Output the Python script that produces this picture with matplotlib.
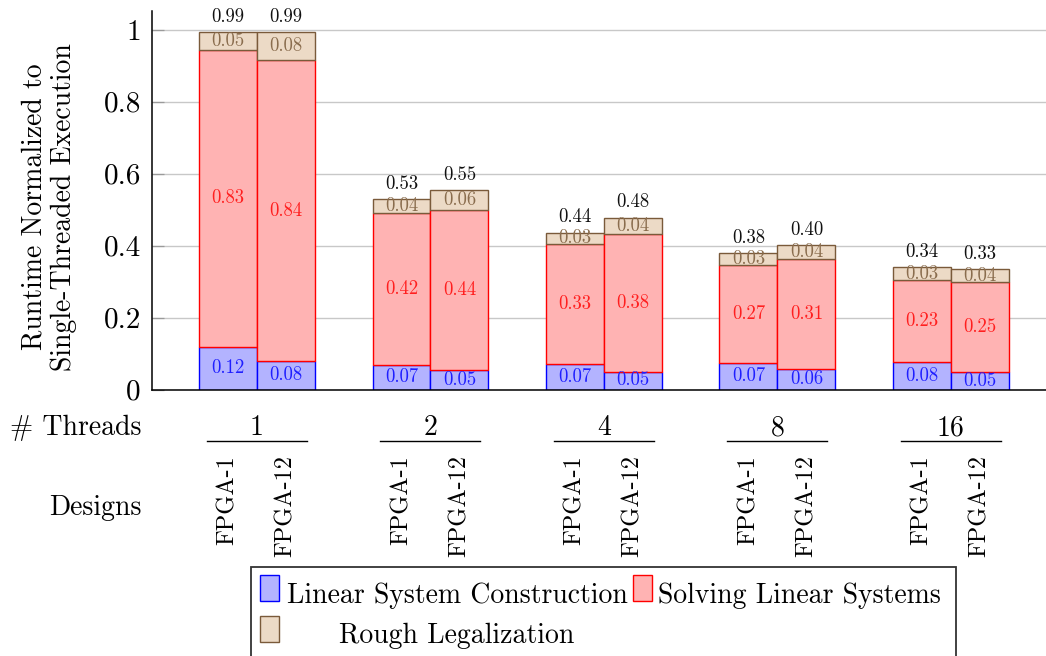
import matplotlib
matplotlib.use("Agg")
import matplotlib.pyplot as plt
from matplotlib import transforms
from matplotlib.patches import Rectangle

plt.rcParams['font.family'] = ['cmr10', 'DejaVu Serif']
plt.rcParams['axes.formatter.use_mathtext'] = True
plt.rcParams['axes.unicode_minus'] = False

# Thread counts and the two designs run at each count
threads = ['1', '2', '4', '8', '16']
designs = ['FPGA-1', 'FPGA-12']

# Runtime components per thread count, as [FPGA-1, FPGA-12]
construction = [[0.118, 0.079], [0.069, 0.054], [0.072, 0.050], [0.073, 0.056], [0.076, 0.048]]
solving = [[0.826, 0.836], [0.421, 0.444], [0.331, 0.383], [0.274, 0.307], [0.229, 0.250]]
legalization = [[0.048, 0.078], [0.039, 0.056], [0.033, 0.044], [0.032, 0.038], [0.034, 0.036]]

series_names = ['Linear System Construction', 'Solving Linear Systems', 'Rough Legalization']

yticks = [0, 0.2, 0.4, 0.6, 0.8, 1.0]
ytick_labels = ['0', '0.2', '0.4', '0.6', '0.8', '1']

# fill, edge, label colour per component
styles = [
    ('#b3b3ff', '#0000ff', '#1f1fff'),
    ('#ffb3b3', '#ff0000', '#ff1f1f'),
    ('#ecdac6', '#7a5a3a', '#8a6d4e'),
]

W, H = 1046, 656
fig = plt.figure(figsize=(W / 100, H / 100), dpi=100)
ax = fig.add_axes([152 / W, 1 - 389.5 / H, (W - 152) / W, (389.5 - 11) / H])

bar_w = 0.334
components = [construction, solving, legalization]

for g in range(len(threads)):
    for d in range(len(designs)):
        x = g + (d - 0.5) * bar_w
        bottom = 0.0
        for comp, (fc, ec, tc) in zip(components, styles):
            v = comp[g][d]
            ax.bar(x, v, bar_w, bottom=bottom, color=fc, edgecolor=ec,
                   linewidth=1.0, zorder=2)
            ax.text(x, bottom + v / 2, f'{v:.2f}', ha='center', va='center',
                    color=tc, fontsize=13.5, zorder=3)
            bottom += v
        ax.annotate(f'{bottom:.2f}', (x, bottom), xytext=(0, 11),
                    textcoords='offset points', ha='center', va='center',
                    fontsize=13.5, color='#111111')

ax.set_xlim(-0.605, 4.548)
ax.set_ylim(0, (389.5 - 11) / 360)
ax.set_xticks([])
ax.set_yticks(yticks)
ax.set_yticklabels(ytick_labels, fontsize=21)
ax.tick_params(axis='y', direction='in', length=8.6, width=0.9,
               color='#9a9a9a', pad=8)
ax.yaxis.grid(True, color='#c8c8c8', linewidth=1.0)
ax.set_axisbelow(True)
for side in ('top', 'right'):
    ax.spines[side].set_visible(False)
for side in ('left', 'bottom'):
    ax.spines[side].set_linewidth(1.1)
    ax.spines[side].set_color('black')

fig.text(49 / W, 1 - 207 / H, 'Runtime Normalized to\nSingle-Threaded Execution',
         rotation=90, ha='center', va='center', multialignment='center',
         fontsize=20, linespacing=1.15)

# Two-level category axis below the plot
trans = transforms.blended_transform_factory(ax.transData, fig.transFigure)
fig.text(142 / W, 1 - 435 / H, '# Threads', ha='right', va='baseline', fontsize=20)
fig.text(142 / W, 1 - 515 / H, 'Designs', ha='right', va='baseline', fontsize=20)
for g, t in enumerate(threads):
    ax.text(g, 1 - 435 / H, t, transform=trans, ha='center', va='baseline', fontsize=20)
    ax.plot([g - 0.288, g + 0.288], [1 - 441 / H] * 2, transform=trans,
            color='black', lw=1.0, clip_on=False)
    for d, name in enumerate(designs):
        ax.text(g + (d - 0.5) * bar_w, 1 - 455 / H, name, transform=trans,
                rotation=90, ha='center', va='top', fontsize=17.5)

# Legend
fig.add_artist(Rectangle((251 / W, 1 - 700 / H), (956 - 251) / W, (700 - 567) / H,
                         transform=fig.transFigure, fill=False,
                         edgecolor='#333333', lw=1.3))
legend_slots = [(260, 575, 287, 603), (633, 575, 658, 603), (260, 616, 339, 643)]
for (px, py, tx, ty), name, (fc, ec, _) in zip(legend_slots, series_names, styles):
    fig.add_artist(Rectangle((px / W, 1 - (py + 26) / H), 19 / W, 26 / H,
                             transform=fig.transFigure, facecolor=fc,
                             edgecolor=ec, lw=1.0))
    fig.text(tx / W, 1 - ty / H, name, ha='left', va='baseline', fontsize=20)

fig.savefig('out.png', dpi=100)
